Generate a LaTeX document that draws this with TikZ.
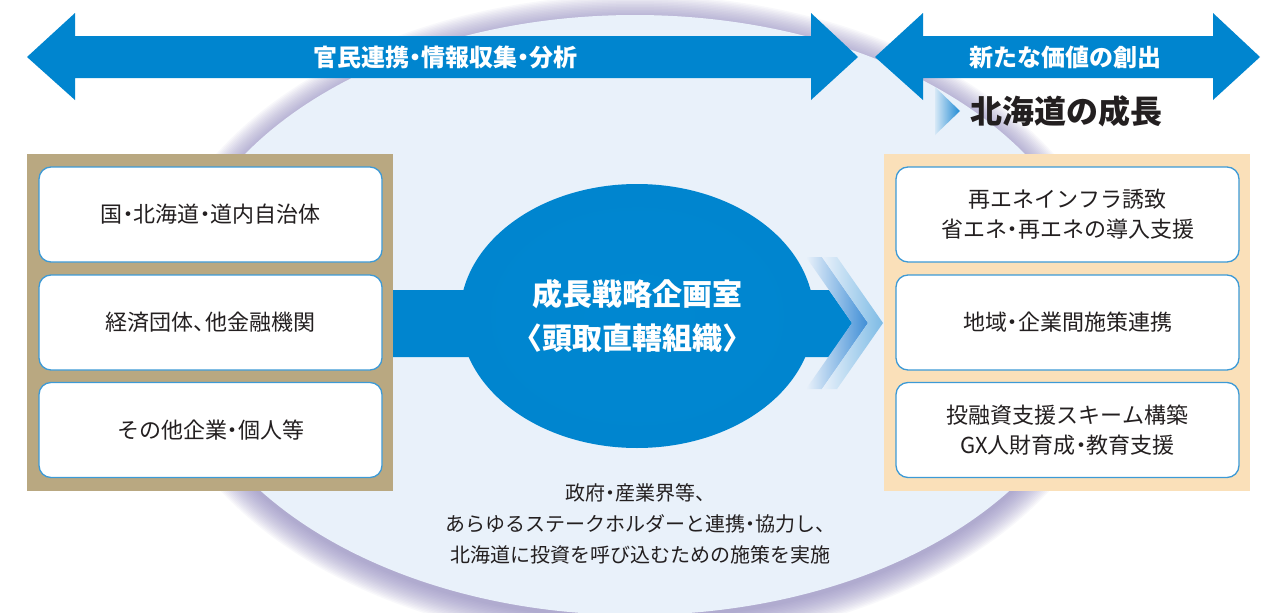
\documentclass[tikz,border=0pt]{standalone}
\usepackage{fontspec}
\setmainfont{Noto Sans CJK JP}
\usetikzlibrary{calc,shapes.geometric}
\definecolor{mainblue}{HTML}{0085CF}
\definecolor{bgblue}{HTML}{E9F1FA}
\definecolor{lav}{HTML}{8C84BE}
\definecolor{tanpanel}{HTML}{B9A881}
\definecolor{peach}{HTML}{FAE0B9}
\definecolor{boxline}{HTML}{3D9AD6}
\definecolor{txt}{HTML}{231F20}
\definecolor{chevA}{HTML}{3F8ED6}
\definecolor{chevB}{HTML}{7DBBE5}
\definecolor{trilight}{HTML}{D6E8F6}
\definecolor{triblue}{HTML}{1F8AD4}
\newcommand\nd{\hspace{-0.25em}・\hspace{-0.25em}}
\newcommand\ncomma{、\hspace{-0.45em}}
\pgfdeclareradialshading{ovalshade}{\pgfpoint{0bp}{0bp}}{rgb(0bp)=(0,0.53,0.82); rgb(32bp)=(0,0.52,0.81); rgb(43bp)=(0,0.44,0.75); rgb(50bp)=(0,0.32,0.62)}
\begin{document}
\begin{tikzpicture}[x=1pt,y=-1pt,
  inbox/.style={draw=boxline, line width=1.3pt, fill=white, rounded corners=12pt,
    minimum width=343pt, minimum height=95pt, text=txt, inner sep=0pt,
    font=\fontsize{22}{30}\selectfont, align=center},
  panel/.style={minimum width=366pt, minimum height=337pt, inner sep=0pt},
  arrowtext/.style={text=white, font=\fontsize{24}{24}\selectfont\bfseries, inner sep=0pt},
  bluearrow/.style={fill=mainblue}]
% background and bounding box
\fill[white] (0,0) rectangle (1278,613);
\useasboundingbox (0,0) rectangle (1278,613);
% large pale ellipse with soft lavender shadow
\foreach \i in {1,...,18} {
  \fill[lav, opacity=0.055] (635,320) ellipse [x radius={460pt+\i*1.5pt}, y radius={298pt+\i*1.5pt}];
}
\fill[bgblue] (635,315) ellipse [x radius=462pt, y radius=300pt];
% top double arrows
\fill[bluearrow] (27,57) -- (75,13) -- (75,36) -- (811,36) -- (811,13) -- (858,57)
  -- (811,100) -- (811,78) -- (75,78) -- (75,100) -- cycle;
\fill[bluearrow] (875,57) -- (923,13) -- (923,36) -- (1213,36) -- (1213,13) -- (1260,57)
  -- (1213,100) -- (1213,78) -- (923,78) -- (923,100) -- cycle;
\node[arrowtext] (a1) at (445,57) {官民連携\nd 情報収集\nd 分析};
\node[arrowtext] (a2) at (1065,57) {新たな価値の創出};
% growth heading
\shade[left color=trilight, right color=triblue] (935,87) -- (960,111) -- (935,135) -- cycle;
\node[text=txt, font=\fontsize{32}{32}\selectfont\bfseries, inner sep=0pt] (grow) at (1066,111) {北海道の成長};
% panels
\node[panel, fill=tanpanel] (lp) at (210,322.5) {};
\node[panel, fill=peach] (rp) at (1067,322.5) {};
% left boxes
\node[inbox] (l1) at (210.5,214.5) {国\nd 北海道\nd 道内自治体};
\node[inbox] (l2) at (210.5,322.5) {経済団体\ncomma 他金融機関};
\node[inbox] (l3) at (210.5,430) {その他企業\nd 個人等};
% right boxes
\node[inbox] (r1) at (1067.5,214.5) {再エネインフラ誘致\\省エネ\nd 再エネの導入支援};
\node[inbox] (r2) at (1067.5,322.5) {地域\nd 企業間施策連携};
\node[inbox] (r3) at (1067.5,430) {投融資支援スキーム構築\\GX人財育成\nd 教育支援};
% central band arrow
\fill[mainblue] (lp.east |- 0,290) -- (829,290) -- (852,323) -- (829,357) -- (lp.east |- 0,357) -- cycle;
% chevrons
\shade[left color=bgblue, right color=chevA] (822,257) -- (868,323) -- (822,389) -- (806,389) -- (852,323) -- (806,257) -- cycle;
\shade[left color=bgblue, right color=chevB] (837,257) -- (883,323) -- (837,389) -- (822,389) -- (868,323) -- (822,257) -- cycle;
% central ellipse
\node[ellipse, shade, shading=ovalshade, minimum width=354pt, minimum height=264pt, inner sep=0pt,
  text=white, font=\fontsize{30}{44}\selectfont\bfseries, align=center] (core) at (637,316)
  {成長戦略企画室\\\hspace{-0.3em}〈頭取直轄組織〉\hspace{-0.3em}};
% bottom text
\node[text=txt, font=\fontsize{20}{31}\selectfont, align=center, inner sep=0pt] (note) at (640,524)
  {政府\nd 産業界等\ncomma\\あらゆるステークホルダーと連携\nd 協力し\ncomma\\北海道に投資を呼び込むための施策を実施};
\end{tikzpicture}
\end{document}
